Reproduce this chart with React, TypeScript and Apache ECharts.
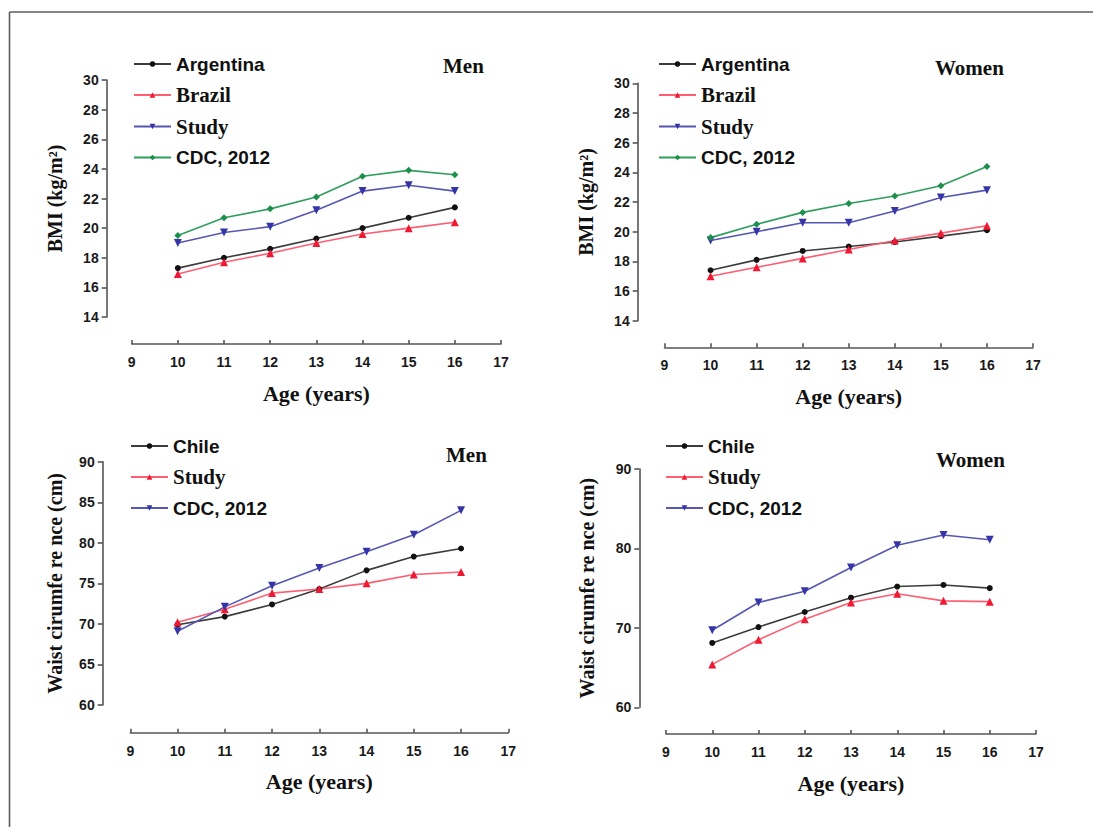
import React, { useEffect, useRef } from "react";
import * as echarts from "echarts";

// ---- data ----
const ages = [10, 11, 12, 13, 14, 15, 16];

const bmiMenArgentina = [17.3, 18.0, 18.6, 19.3, 20.0, 20.7, 21.4];
const bmiMenBrazil = [16.9, 17.7, 18.3, 19.0, 19.6, 20.0, 20.4];
const bmiMenStudy = [19.0, 19.7, 20.1, 21.2, 22.5, 22.9, 22.5];
const bmiMenCDC = [19.5, 20.7, 21.3, 22.1, 23.5, 23.9, 23.6];

const bmiWomenArgentina = [17.4, 18.1, 18.7, 19.0, 19.3, 19.7, 20.1];
const bmiWomenBrazil = [17.0, 17.6, 18.2, 18.8, 19.4, 19.9, 20.4];
const bmiWomenStudy = [19.4, 20.0, 20.6, 20.6, 21.4, 22.3, 22.8];
const bmiWomenCDC = [19.6, 20.5, 21.3, 21.9, 22.4, 23.1, 24.4];

const waistMenChile = [69.9, 70.9, 72.4, 74.3, 76.6, 78.3, 79.3];
const waistMenStudy = [70.2, 71.8, 73.8, 74.3, 75.0, 76.1, 76.4];
const waistMenCDC = [69.1, 72.1, 74.7, 76.9, 78.9, 81.0, 84.0];

const waistWomenChile = [68.1, 70.1, 72.0, 73.8, 75.2, 75.4, 75.0];
const waistWomenStudy = [65.4, 68.5, 71.1, 73.2, 74.3, 73.4, 73.3];
const waistWomenCDC = [69.7, 73.2, 74.6, 77.6, 80.4, 81.7, 81.1];

const xMin = 9;
const xMax = 17;
const bmiMin = 14;
const bmiMax = 30;
const bmiStep = 2;
const waistMin = 60;
const waistMax = 90;
const waistMenStep = 5;
const waistWomenStep = 10;

const panelTitles = ["Men", "Women", "Men", "Women"];
const xName = "Age (years)";
const bmiName = "BMI (kg/m²)";
const waistName = "Waist cirumfe re nce (cm)";

// ---- styles ----
const SANS = "'Liberation Sans', Arial, sans-serif";
const SERIF = "'Liberation Serif', 'Times New Roman', serif";

const STY: Record<string, any> = {
  black: { line: "#3c3c3c", mark: "#111111", symbol: "circle", size: 6, rot: 0 },
  red: { line: "#ff5d70", mark: "#ee1a34", symbol: "triangle", size: 8, rot: 0 },
  blue: { line: "#5757b3", mark: "#3535a8", symbol: "triangle", size: 8, rot: 180 },
  green: { line: "#2f9e5c", mark: "#1c8f4c", symbol: "diamond", size: 7, rot: 0 },
};

type Entry = { label: string; data: number[]; sty: string; font: string; size: number };

const panels: {
  grid: { left: number; top: number; width: number; height: number };
  xOff: number;
  yOff: number;
  yMin: number;
  yMax: number;
  yStep: number;
  yName: string;
  yNameGap: number;
  legend: { left: number; top: number };
  title: { left: number; top: number };
  entries: Entry[];
}[] = [
  {
    grid: { left: 131.7, top: 80, width: 369.3, height: 237 },
    xOff: 27,
    yOff: 25,
    yMin: bmiMin,
    yMax: bmiMax,
    yStep: bmiStep,
    yName: bmiName,
    yNameGap: 42,
    legend: { left: 133, top: 54 },
    title: { left: 443, top: 55 },
    entries: [
      { label: "Argentina", data: bmiMenArgentina, sty: "black", font: SANS, size: 19 },
      { label: "Brazil", data: bmiMenBrazil, sty: "red", font: SERIF, size: 21 },
      { label: "Study", data: bmiMenStudy, sty: "blue", font: SERIF, size: 21 },
      { label: "CDC, 2012", data: bmiMenCDC, sty: "green", font: SANS, size: 19 },
    ],
  },
  {
    grid: { left: 664.5, top: 83.3, width: 368.5, height: 237.4 },
    xOff: 26.6,
    yOff: 26.8,
    yMin: bmiMin,
    yMax: bmiMax,
    yStep: bmiStep,
    yName: bmiName,
    yNameGap: 42,
    legend: { left: 658, top: 54 },
    title: { left: 935, top: 57 },
    entries: [
      { label: "Argentina", data: bmiWomenArgentina, sty: "black", font: SANS, size: 19 },
      { label: "Brazil", data: bmiWomenBrazil, sty: "red", font: SERIF, size: 21 },
      { label: "Study", data: bmiWomenStudy, sty: "blue", font: SERIF, size: 21 },
      { label: "CDC, 2012", data: bmiWomenCDC, sty: "green", font: SANS, size: 19 },
    ],
  },
  {
    grid: { left: 130.3, top: 461.7, width: 378, height: 243.3 },
    xOff: 27.7,
    yOff: 27.6,
    yMin: waistMin,
    yMax: waistMax,
    yStep: waistMenStep,
    yName: waistName,
    yNameGap: 38,
    legend: { left: 130, top: 436 },
    title: { left: 446, top: 444 },
    entries: [
      { label: "Chile", data: waistMenChile, sty: "black", font: SANS, size: 19 },
      { label: "Study", data: waistMenStudy, sty: "red", font: SERIF, size: 21 },
      { label: "CDC, 2012", data: waistMenCDC, sty: "blue", font: SANS, size: 19 },
    ],
  },
  {
    grid: { left: 666, top: 469, width: 370, height: 238.3 },
    xOff: 26.7,
    yOff: 26.7,
    yMin: waistMin,
    yMax: waistMax,
    yStep: waistWomenStep,
    yName: waistName,
    yNameGap: 42,
    legend: { left: 665, top: 436 },
    title: { left: 936, top: 449 },
    entries: [
      { label: "Chile", data: waistWomenChile, sty: "black", font: SANS, size: 19 },
      { label: "Study", data: waistWomenStudy, sty: "red", font: SERIF, size: 21 },
      { label: "CDC, 2012", data: waistWomenCDC, sty: "blue", font: SANS, size: 19 },
    ],
  },
];

function buildOption() {
  const AX = "#555555";
  const grid: any[] = [];
  const xAxis: any[] = [];
  const yAxis: any[] = [];
  const series: any[] = [];
  const legend: any[] = [];
  const title: any[] = [];

  panels.forEach((p, i) => {
    grid.push({ ...p.grid, containLabel: false, outerBoundsMode: "none" });
    xAxis.push({
      type: "value",
      gridIndex: i,
      min: xMin,
      max: xMax,
      interval: 1,
      offset: p.xOff,
      axisLine: { show: true, lineStyle: { color: AX, width: 1.6 } },
      axisTick: { show: true, inside: true, length: 4, lineStyle: { color: AX, width: 1.6 } },
      axisLabel: { color: "#1a1a1a", fontFamily: SANS, fontWeight: "bold", fontSize: 14, margin: 11 },
      splitLine: { show: false },
      name: xName,
      nameLocation: "middle",
      nameGap: 38,
      nameTextStyle: { color: "#111", fontFamily: SERIF, fontWeight: "bold", fontSize: 22 },
    });
    yAxis.push({
      type: "value",
      gridIndex: i,
      min: p.yMin,
      max: p.yMax,
      interval: p.yStep,
      offset: p.yOff,
      axisLine: { show: true, lineStyle: { color: AX, width: 1.6 } },
      axisTick: { show: true, inside: false, length: 5, lineStyle: { color: AX, width: 1.6 } },
      axisLabel: { color: "#1a1a1a", fontFamily: SANS, fontWeight: "bold", fontSize: 14, margin: 8 },
      splitLine: { show: false },
      name: p.yName,
      nameLocation: "middle",
      nameGap: p.yNameGap,
      nameTextStyle: { color: "#111", fontFamily: SERIF, fontWeight: "bold", fontSize: 20 },
    });
    const legendData: any[] = [];
    p.entries.forEach((e) => {
      const s = STY[e.sty];
      const name = e.label + "|" + i;
      legendData.push({
        name,
        textStyle: { fontFamily: e.font, fontSize: e.size, fontWeight: "bold", color: "#111", lineHeight: 20 },
      });
      series.push({
        type: "line",
        name,
        xAxisIndex: i,
        yAxisIndex: i,
        data: ages.map((a, k) => [a, e.data[k]]),
        symbol: s.symbol,
        symbolSize: s.size,
        symbolRotate: s.rot,
        showSymbol: true,
        lineStyle: { color: s.line, width: 1.6 },
        itemStyle: { color: s.mark },
        emphasis: { disabled: true },
      });
    });
    legend.push({
      orient: "vertical",
      left: p.legend.left,
      top: p.legend.top,
      padding: 0,
      itemGap: 10.5,
      itemWidth: 37,
      itemHeight: 7,
      selectedMode: false,
      formatter: (n: string) => n.split("|")[0],
      data: legendData,
    });
    title.push({
      text: panelTitles[i],
      left: p.title.left,
      top: p.title.top,
      padding: 0,
      textStyle: { fontFamily: SERIF, fontWeight: "bold", fontSize: 21, color: "#111" },
    });
  });

  return {
    animation: false,
    backgroundColor: "#ffffff",
    grid,
    xAxis,
    yAxis,
    series,
    legend,
    title,
    graphic: [
      { type: "line", shape: { x1: 9.5, y1: 12, x2: 1093, y2: 12 }, style: { stroke: "#5c5c5c", lineWidth: 1.6 } },
      { type: "line", shape: { x1: 9.5, y1: 12, x2: 9.5, y2: 827 }, style: { stroke: "#5c5c5c", lineWidth: 1.6 } },
    ],
  };
}

export default function App() {
  const ref = useRef<HTMLDivElement>(null);
  useEffect(() => {
    if (!ref.current) return;
    const chart = echarts.init(ref.current, undefined, { renderer: "svg" });
    chart.setOption(buildOption() as any);
    return () => chart.dispose();
  }, []);
  return (
    <div
      ref={ref}
      style={{ position: "absolute", left: 0, top: 0, width: 1093, height: 827, background: "#fff" }}
    />
  );
}
